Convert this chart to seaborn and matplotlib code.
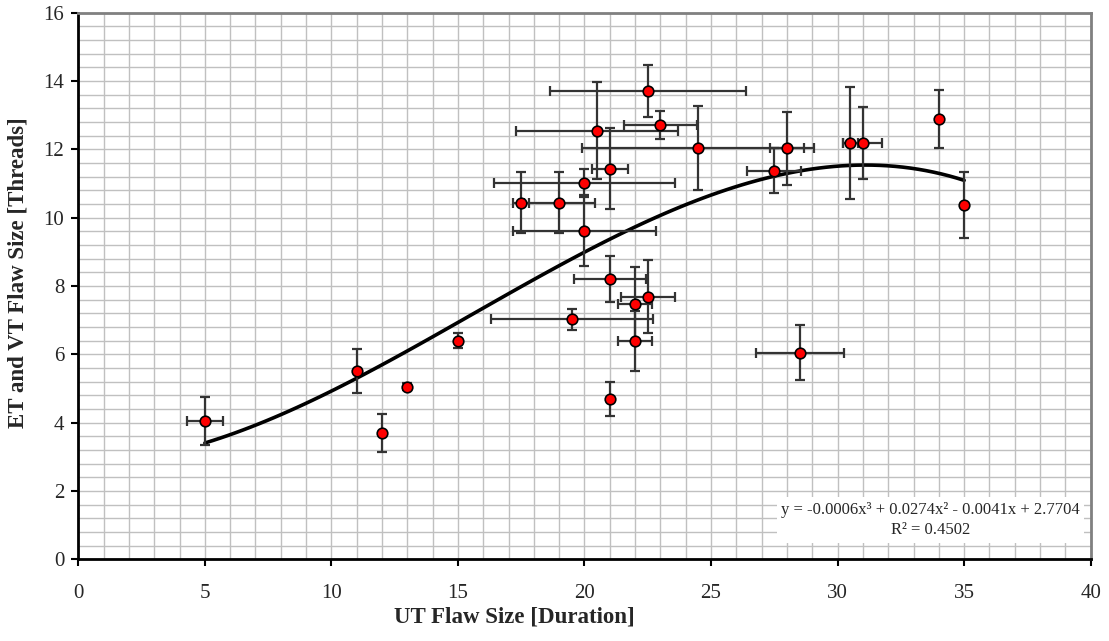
import numpy as np
import pandas as pd
import matplotlib
matplotlib.use("Agg")
import matplotlib.pyplot as plt
from matplotlib.ticker import MultipleLocator
import seaborn as sns

# ---- data ----
ut_size = [5, 11, 12, 13, 15, 17.5, 19, 19.5, 20, 20, 20.5, 21, 21, 21, 22, 22,
           22.5, 22.5, 23, 24.5, 27.5, 28, 28.5, 30.5, 31, 34, 35]
et_vt_size = [4.05, 5.52, 3.70, 5.05, 6.40, 10.44, 10.44, 7.03, 11.02, 9.62, 12.55,
              11.43, 8.21, 4.70, 7.46, 6.40, 13.71, 7.69, 12.72, 12.03, 11.38, 12.03,
              6.05, 12.18, 12.18, 12.89, 10.38]
ut_err = [0.71, 0, 0, 0, 0, 0.32, 1.41, 3.19, 3.56, 2.84, 3.20, 0.71, 1.43, 0, 0.66,
          0.66, 3.88, 1.07, 1.44, 4.58, 1.07, 0.69, 1.74, 0.29, 0.77, 0, 0]
et_err = [0.70, 0.64, 0.55, 0.10, 0.23, 0.90, 0.90, 0.31, 0.41, 1.03, 1.41, 1.19,
          0.67, 0.50, 1.10, 0.88, 0.75, 1.08, 0.41, 1.23, 0.66, 1.06, 0.81, 1.64,
          1.05, 0.85, 0.97]
x_label = "UT Flaw Size [Duration]"
y_label = "ET and VT Flaw Size [Threads]"
eq_text = "y = -0.0006x³ + 0.0274x² - 0.0041x + 2.7704\nR² = 0.4502"

df = pd.DataFrame({"ut": ut_size, "et": et_vt_size, "xe": ut_err, "ye": et_err})

sns.set_style("white")
plt.rcParams["font.family"] = ["Liberation Serif", "DejaVu Serif"]

fig = plt.figure(figsize=(11.09, 6.41), dpi=100)
ax = fig.add_axes([0.0706, 0.1275, 0.9129, 0.8527])

# grid
ax.set_xlim(0, 40)
ax.set_ylim(0, 16)
ax.xaxis.set_major_locator(MultipleLocator(5))
ax.xaxis.set_minor_locator(MultipleLocator(1))
ax.yaxis.set_major_locator(MultipleLocator(2))
ax.yaxis.set_minor_locator(MultipleLocator(0.4))
ax.grid(True, which="both", color="#c0c0c0", linewidth=1.0)
ax.set_axisbelow(True)

# cubic trend line
sns.regplot(data=df, x="ut", y="et", order=3, ci=None, scatter=False, truncate=True,
            line_kws={"color": "black", "linewidth": 2.6, "zorder": 3}, ax=ax)

# error bars
ax.errorbar(df["ut"], df["et"], xerr=df["xe"], yerr=df["ye"], fmt="none",
            ecolor="#333333", elinewidth=1.6, capsize=3.8, capthick=1.6, zorder=4)

# points
sns.scatterplot(data=df, x="ut", y="et", color="#ff0000", edgecolor="black",
                linewidth=1.2, s=58, zorder=5, ax=ax, legend=False)

# axes styling
for side in ["left", "bottom"]:
    ax.spines[side].set_color("black")
    ax.spines[side].set_linewidth(2.0)
for side in ["top", "right"]:
    ax.spines[side].set_color("#808080")
    ax.spines[side].set_linewidth(2.0)
ax.tick_params(which="major", direction="out", length=5, width=1.5, color="black",
               labelsize=15, bottom=True, left=True)
ax.tick_params(axis="x", which="major", pad=13)
ax.tick_params(axis="y", which="major", pad=5)
ax.tick_params(which="minor", length=0)

ax.set_xlabel(x_label, fontsize=16.5, fontweight="bold")
ax.set_ylabel(y_label, fontsize=16.5, fontweight="bold")
ax.xaxis.set_label_coords(0.431, -0.086)
ax.yaxis.set_label_coords(-0.049, 0.524)

ax.text(0.8418, 0.0719, eq_text, transform=ax.transAxes, ha="center", va="center",
        fontsize=12, linespacing=1.4, zorder=6,
        bbox=dict(facecolor="white", edgecolor="none", pad=3))

fig.savefig("out.png", dpi=100)
